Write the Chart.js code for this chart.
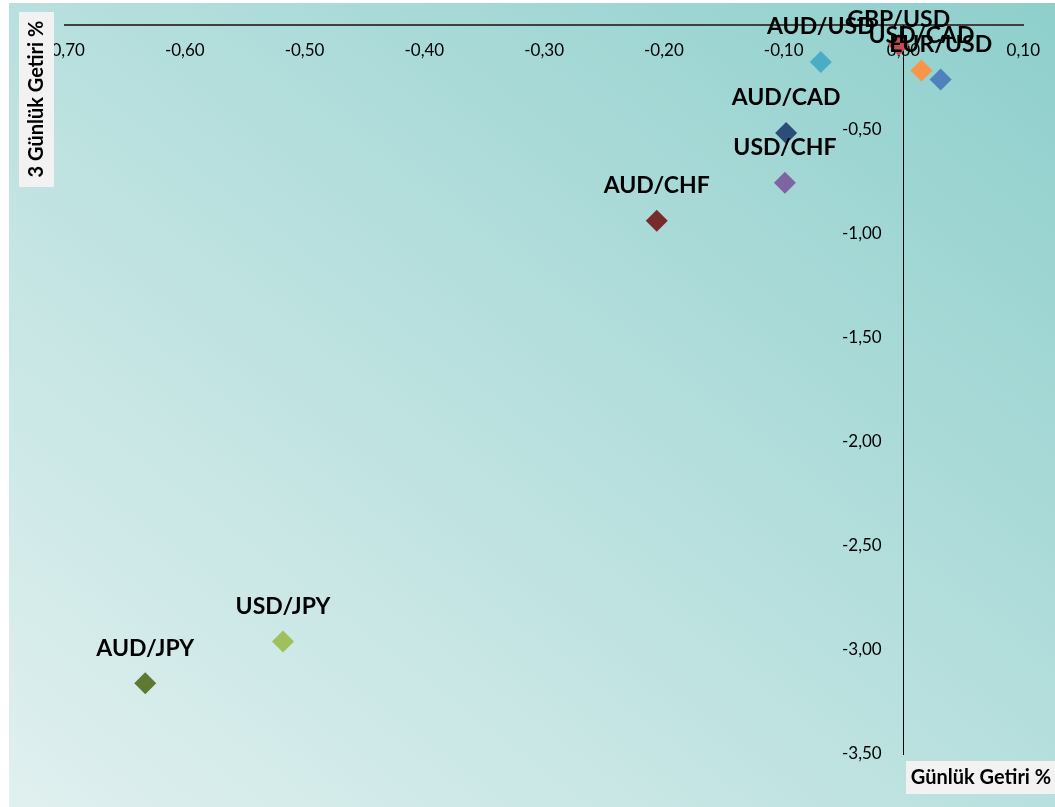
<!DOCTYPE html>
<html><head><meta charset="utf-8">
<script src="https://cdn.jsdelivr.net/npm/chart.js@4.4.0/dist/chart.umd.min.js"></script>
<style>html,body{margin:0;padding:0;background:#fff;} #wrap{width:1055px;height:807px;position:relative;}</style>
</head><body><div id="wrap"><canvas id="c" width="1055" height="807"></canvas></div>
<script>
const pairs = ['AUD/JPY','USD/JPY','AUD/CHF','USD/CHF','AUD/CAD','AUD/USD','GBP/USD','USD/CAD','EUR/USD'];
const dailyReturn = [-0.633,-0.518,-0.206,-0.099,-0.098,-0.069,-0.004,0.015,0.031];
const threeDayReturn = [-3.16,-2.96,-0.94,-0.757,-0.518,-0.178,-0.095,-0.219,-0.262];
const pointColors = ['#5f7832','#9fc05c','#772c2b','#8064a2','#2c4d75','#4bacc6','#c0504d','#f79646','#4f81bd'];
const xAxisTitle = 'Günlük Getiri %';
const yAxisTitle = '3 Günlük Getiri %';
const xRange = [-0.70, 0.10];
const yRange = [-3.50, 0];

const fmt = v => v.toFixed(2).replace('.', ',').replace('-0,00','0,00');

const bgPlugin = {
  id: 'bg',
  beforeDraw(chart) {
    const ctx = chart.ctx;
    ctx.save();
    const g = ctx.createLinearGradient(143, 910, 921, -100);
    g.addColorStop(0, '#e0f0ef');
    g.addColorStop(0.5, '#b8e0de');
    g.addColorStop(1, '#8ecfcc');
    ctx.fillStyle = g;
    ctx.fillRect(9, 3, 1055 - 9, 807 - 3);
    ctx.restore();
  }
};

const labelPlugin = {
  id: 'pointLabels',
  afterDatasetsDraw(chart) {
    const ctx = chart.ctx;
    const meta = chart.getDatasetMeta(0);
    ctx.save();
    ctx.font = 'bold 23px Lato';
    ctx.fillStyle = '#000';
    ctx.textAlign = 'center';
    ctx.textBaseline = 'middle';
    meta.data.forEach((pt, i) => {
      let y = pt.y - 35;
      if (y < 20) y = 20;
      ctx.fillText(pairs[i], pt.x, y);
    });
    ctx.restore();
  },
  afterDraw(chart) {
    const ctx = chart.ctx;
    ctx.save();
    ctx.fillStyle = '#f2f2f2';
    ctx.fillRect(19, 12, 35, 175);
    ctx.fillRect(906, 761, 149, 33);
    ctx.fillStyle = '#000';
    ctx.font = 'bold 20px Lato';
    ctx.textAlign = 'center';
    ctx.textBaseline = 'middle';
    ctx.fillText(xAxisTitle, 981, 778);
    ctx.translate(37, 99);
    ctx.rotate(-Math.PI / 2);
    ctx.fillText(yAxisTitle, 0, 0);
    ctx.restore();
  }
};

new Chart(document.getElementById('c'), {
  type: 'scatter',
  data: {
    datasets: [{
      data: dailyReturn.map((x, i) => ({x, y: threeDayReturn[i]})),
      pointStyle: 'rectRot',
      pointRadius: 11,
      pointHoverRadius: 11,
      pointBorderWidth: 0,
      pointBackgroundColor: pointColors,
      pointBorderColor: pointColors
    }]
  },
  options: {
    responsive: false,
    animation: false,
    devicePixelRatio: 1,
    layout: { padding: { left: 65, right: 30, top: 25, bottom: 53 } },
    plugins: { legend: { display: false }, tooltip: { enabled: false } },
    scales: {
      x: {
        type: 'linear',
        min: xRange[0], max: xRange[1],
        position: { y: 0 },
        grid: { display: false, drawTicks: false },
        border: { display: true, color: '#404040', width: 2 },
        ticks: { stepSize: 0.1, color: '#000', font: { family: 'Lato', size: 17 }, padding: 15,
                 maxRotation: 0, autoSkip: false, callback: v => fmt(v) }
      },
      y: {
        type: 'linear',
        min: yRange[0], max: yRange[1],
        position: { x: 0 },
        grid: { display: false, drawTicks: false },
        border: { display: true, color: '#000', width: 1 },
        ticks: { stepSize: 0.5, color: '#000', font: { family: 'Lato', size: 17 },
                 autoSkip: false, callback: v => (Math.abs(v) < 1e-9 ? '' : fmt(v) + '     ') }
      }
    }
  },
  plugins: [bgPlugin, labelPlugin]
});
</script></body></html>
